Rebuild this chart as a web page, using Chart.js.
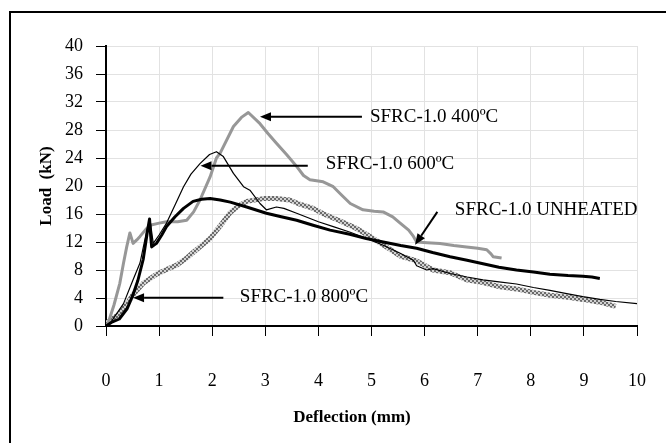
<!DOCTYPE html>
<html>
<head>
<meta charset="utf-8">
<script src="https://cdn.jsdelivr.net/npm/chart.js@4.4.1/dist/chart.umd.min.js"></script>
<style>
  html, body { margin: 0; padding: 0; background: #fff; }
</style>
</head>
<body>
<canvas id="chart" width="666" height="443"></canvas>
<script>
// deflection (mm) / load (kN) pairs
const deflUnheated = [0, 0.1, 0.25, 0.4, 0.5, 0.6, 0.7, 0.78, 0.82, 0.84, 0.86, 0.95, 1.05, 1.14, 1.3, 1.46, 1.64, 1.8, 1.96, 2.15, 2.34, 2.65, 3.02, 3.3, 3.59, 3.9, 4.22, 4.59, 4.9, 5.22, 5.55, 5.85, 6.15, 6.48, 6.8, 7.1, 7.4, 7.73, 8.05, 8.36, 8.7, 8.98, 9.15, 9.3];
const loadUnheated = [0, 0.5, 1.0, 2.5, 4.3, 6.5, 9.5, 13.5, 15.3, 13.0, 11.3, 11.8, 13.0, 14.2, 15.6, 16.8, 17.8, 18.1, 18.2, 18.0, 17.7, 17.0, 16.1, 15.6, 15.1, 14.4, 13.7, 13.1, 12.5, 12.0, 11.5, 11.1, 10.5, 9.9, 9.4, 8.9, 8.4, 8.0, 7.7, 7.4, 7.2, 7.1, 7.0, 6.8];

const defl400 = [0, 0.04, 0.15, 0.26, 0.33, 0.39, 0.45, 0.51, 0.58, 0.64, 0.75, 0.83, 1.0, 1.14, 1.35, 1.52, 1.65, 1.77, 1.96, 2.08, 2.15, 2.4, 2.55, 2.68, 2.9, 3.05, 3.21, 3.4, 3.59, 3.72, 3.84, 4.09, 4.28, 4.45, 4.6, 4.84, 5.05, 5.22, 5.4, 5.54, 5.7, 5.79, 5.85, 6.05, 6.29, 6.55, 6.79, 7.0, 7.17, 7.25, 7.29, 7.45];
const load400 = [0, 0.4, 3.0, 6.1, 9.0, 11.3, 13.3, 11.8, 12.3, 12.8, 13.8, 14.4, 14.7, 14.9, 14.9, 15.1, 16.3, 18.0, 21.3, 24.0, 24.7, 28.5, 29.8, 30.5, 28.9, 27.5, 26.1, 24.5, 22.8, 21.5, 20.9, 20.6, 19.9, 18.6, 17.5, 16.6, 16.4, 16.3, 15.6, 14.7, 13.7, 12.8, 12.0, 11.9, 11.8, 11.5, 11.3, 11.1, 10.9, 10.3, 9.9, 9.7];

const defl600 = [0, 0.08, 0.33, 0.51, 0.64, 0.77, 0.83, 0.89, 1.0, 1.14, 1.3, 1.46, 1.6, 1.77, 1.95, 2.08, 2.21, 2.4, 2.59, 2.71, 2.9, 3.02, 3.21, 3.35, 3.59, 4.0, 4.28, 4.6, 4.91, 5.2, 5.54, 5.79, 5.85, 6.04, 6.16, 6.48, 6.8, 7.1, 7.4, 7.73, 8.05, 8.36, 8.7, 8.98, 9.3, 9.6, 10.0];
const load600 = [0, 0.4, 3.2, 6.6, 9.0, 13.7, 15.1, 11.8, 13.0, 14.7, 17.3, 19.9, 21.7, 23.2, 24.5, 24.9, 24.2, 21.8, 19.9, 19.4, 17.5, 16.6, 17.0, 16.8, 16.1, 14.9, 14.2, 13.4, 12.5, 11.6, 10.4, 9.4, 8.6, 8.0, 8.2, 7.5, 7.0, 6.6, 6.3, 6.0, 5.5, 5.1, 4.6, 4.2, 3.8, 3.5, 3.2];

const defl800 = [0, 0.01, 0.26, 0.4, 0.51, 0.7, 0.95, 1.15, 1.33, 1.5, 1.64, 1.77, 1.96, 2.15, 2.34, 2.5, 2.65, 2.96, 3.2, 3.46, 3.65, 3.9, 4.1, 4.41, 4.7, 4.97, 5.22, 5.54, 5.85, 6.16, 6.48, 6.79, 7.1, 7.42, 7.73, 8.05, 8.36, 8.7, 8.98, 9.3, 9.6];
const load800 = [0, 0.4, 1.8, 3.2, 4.5, 6.1, 7.4, 8.1, 8.7, 9.6, 10.5, 11.3, 12.5, 14.3, 16.2, 17.2, 17.8, 18.2, 18.2, 18.0, 17.4, 16.8, 16.0, 15.0, 14.0, 12.8, 11.6, 10.0, 9.3, 8.0, 7.6, 6.6, 6.2, 5.6, 5.3, 4.8, 4.4, 4.1, 3.8, 3.4, 2.8];

const xTicks = [0, 10, 1];   // min, max, step
const yTicks = [0, 40, 4];

const labelTexts = ['SFRC-1.0 400ºC', 'SFRC-1.0 600ºC', 'SFRC-1.0 UNHEATED', 'SFRC-1.0 800ºC'];

const pair = (xs, ys) => xs.map((x, i) => ({ x, y: ys[i] }));

// checkered pattern used for the 800ºC curve
const hatch = (() => {
    const c = document.createElement('canvas');
    c.width = 4; c.height = 4;
    const g = c.getContext('2d');
    g.fillStyle = '#d2d2d2';
    g.fillRect(0, 0, 4, 4);
    g.fillStyle = '#6a6a6a';
    g.fillRect(0, 0, 2, 2);
    g.fillRect(2, 2, 2, 2);
    return g.createPattern(c, 'repeat');
})();

// arrows + labels, in data coordinates
const notes = [
    { text: labelTexts[0], tx: 4.97, ty: 29.9, from: [4.82, 29.9], to: [2.90, 29.9] },
    { text: labelTexts[1], tx: 4.14, ty: 23.2, from: [3.80, 22.9], to: [1.78, 22.9] },
    { text: labelTexts[2], tx: 6.57, ty: 16.6, from: [6.24, 16.3], to: [5.82, 11.6] },
    { text: labelTexts[3], tx: 2.52, ty: 4.1,  from: [2.21, 4.05], to: [0.51, 4.05] },
];

const serif = "'Liberation Serif', 'Times New Roman', serif";

const extras = {
    id: 'extras',
    beforeDraw(chart) {
        const ctx = chart.ctx;
        ctx.save();
        ctx.strokeStyle = '#000';
        ctx.lineWidth = 2;
        ctx.strokeRect(10, 12, 700, 500);
        ctx.restore();
    },
    afterDatasetsDraw(chart) {
        const { ctx, scales: { x, y } } = chart;
        ctx.save();
        ctx.fillStyle = '#000';
        ctx.strokeStyle = '#000';
        ctx.font = '19px ' + serif;
        ctx.textBaseline = 'middle';
        ctx.textAlign = 'left';
        notes.forEach(n => {
            ctx.fillText(n.text, x.getPixelForValue(n.tx), y.getPixelForValue(n.ty));
            const x1 = x.getPixelForValue(n.from[0]), y1 = y.getPixelForValue(n.from[1]);
            const x2 = x.getPixelForValue(n.to[0]), y2 = y.getPixelForValue(n.to[1]);
            const a = Math.atan2(y2 - y1, x2 - x1);
            const len = 11, w = 4.5;
            const bx = x2 - len * Math.cos(a), by = y2 - len * Math.sin(a);
            ctx.lineWidth = 2;
            ctx.beginPath();
            ctx.moveTo(x1, y1);
            ctx.lineTo(bx, by);
            ctx.stroke();
            ctx.beginPath();
            ctx.moveTo(x2, y2);
            ctx.lineTo(bx + w * Math.sin(a), by - w * Math.cos(a));
            ctx.lineTo(bx - w * Math.sin(a), by + w * Math.cos(a));
            ctx.closePath();
            ctx.fill();
        });
        // x axis title, sits a little left of the plot centre
        ctx.font = 'bold 17px ' + serif;
        ctx.textAlign = 'center';
        ctx.fillText('Deflection (mm)', 352, 418);
        ctx.restore();
    }
};

new Chart(document.getElementById('chart'), {
    type: 'line',
    data: {
        datasets: [
            { label: labelTexts[2], data: pair(deflUnheated, loadUnheated), borderColor: '#000', borderWidth: 3, order: 1 },
            { label: labelTexts[1], data: pair(defl600, load600), borderColor: '#000', borderWidth: 1.2, order: 2 },
            { label: labelTexts[0], data: pair(defl400, load400), borderColor: '#979797', borderWidth: 3, order: 3 },
            { label: labelTexts[3], data: pair(defl800, load800), borderColor: hatch, borderWidth: 5, order: 4 },
        ]
    },
    options: {
        responsive: false,
        animation: false,
        events: [],
        elements: {
            point: { radius: 0 },
            line: { tension: 0, fill: false, borderJoinStyle: 'round' }
        },
        layout: { padding: { top: 46, right: 29, left: 0, bottom: 0 } },
        plugins: {
            legend: { display: false },
            tooltip: { enabled: false }
        },
        scales: {
            x: {
                type: 'linear',
                min: xTicks[0], max: xTicks[1],
                afterFit: s => { s.height = 117; s.paddingLeft = 0; s.paddingRight = 0; },
                ticks: { stepSize: xTicks[2], color: '#000', padding: 34, font: { family: serif, size: 18 } },
                grid: { color: '#e2e2e2', tickColor: '#000', tickLength: 10, tickWidth: 1 },
                border: { color: '#000', width: 2 }
            },
            y: {
                min: yTicks[0], max: yTicks[1],
                afterFit: s => { s.width = 106; },
                ticks: { stepSize: yTicks[2], color: '#000', padding: 13, font: { family: serif, size: 18 } },
                grid: { color: '#e2e2e2', tickColor: '#000', tickLength: 10, tickWidth: 1 },
                border: { color: '#000', width: 2 },
                title: { display: true, text: 'Load  (kN)', color: '#000', padding: { top: 36, bottom: 0 }, font: { family: serif, size: 17, weight: 'bold' } }
            }
        }
    },
    plugins: [extras]
});
</script>
</body>
</html>
